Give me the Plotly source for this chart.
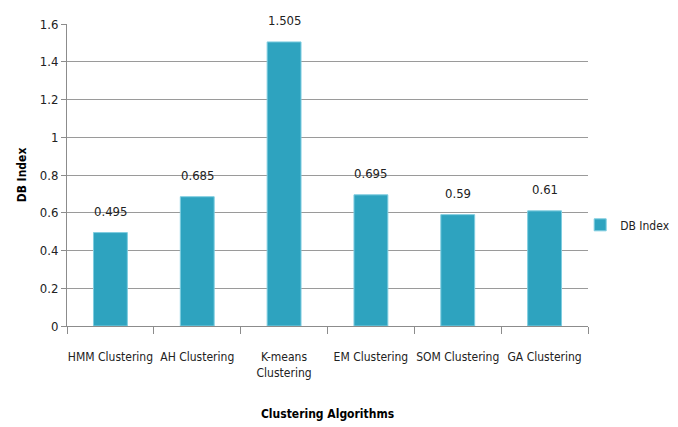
import plotly.graph_objects as go

categories = ["HMM Clustering", "AH Clustering", "K-means<br>Clustering", "EM Clustering", "SOM Clustering", "GA Clustering"]
db_index = [0.495, 0.685, 1.505, 0.695, 0.59, 0.61]
value_labels = ["0.495", "0.685", "1.505", "0.695", "0.59", "0.61"]
y_ticks = [0, 0.2, 0.4, 0.6, 0.8, 1, 1.2, 1.4, 1.6]

FONT = "DejaVu Sans Condensed, Liberation Sans Narrow, Roboto, sans-serif"
BAR = "#2ea3bf"

fig = go.Figure()
fig.add_trace(go.Bar(
    x=categories, y=db_index, name="DB Index",
    marker=dict(color=BAR, line=dict(color="#7fcde0", width=1)),
))

for c, v, t in zip(categories, db_index, value_labels):
    fig.add_annotation(x=c, y=v, text=t, showarrow=False, yshift=21,
                       font=dict(family=FONT, size=13, color="#222"))

fig.update_layout(
    width=678, height=427,
    margin=dict(l=67, r=90, t=24, b=101, autoexpand=False),
    paper_bgcolor="white", plot_bgcolor="white",
    bargap=0.61,
    showlegend=True,
    legend=dict(x=0.985, y=0.335, xanchor="left", yanchor="middle",
                font=dict(family=FONT, size=12, color="#222"),
                itemwidth=30, bgcolor="rgba(0,0,0,0)"),
    font=dict(family=FONT, size=12, color="#222"),
    xaxis=dict(
        title=dict(text="<b>Clustering Algorithms</b>", font=dict(family=FONT, size=12, color="#000"), standoff=30),
        showline=True, linecolor="#8c8c8c", linewidth=1,
        ticks="outside", tickson="boundaries", ticklen=7, tickcolor="#8c8c8c",
        tickfont=dict(family=FONT, size=12, color="#222"),
        ticklabelstandoff=20,
        tickangle=0, automargin=False,
        showgrid=False,
    ),
    yaxis=dict(
        title=dict(text="<b>DB Index</b>", font=dict(family=FONT, size=12, color="#000"), standoff=10),
        range=[0, 1.6], tickvals=y_ticks,
        showline=True, linecolor="#8c8c8c", linewidth=1,
        ticks="outside", ticklen=5, tickcolor="#8c8c8c",
        showgrid=True, gridcolor="#9a9a9a", gridwidth=1,
        tickfont=dict(family=FONT, size=13, color="#222"),
        zeroline=False, automargin=False,
    ),
)

fig.write_html("out.html")
